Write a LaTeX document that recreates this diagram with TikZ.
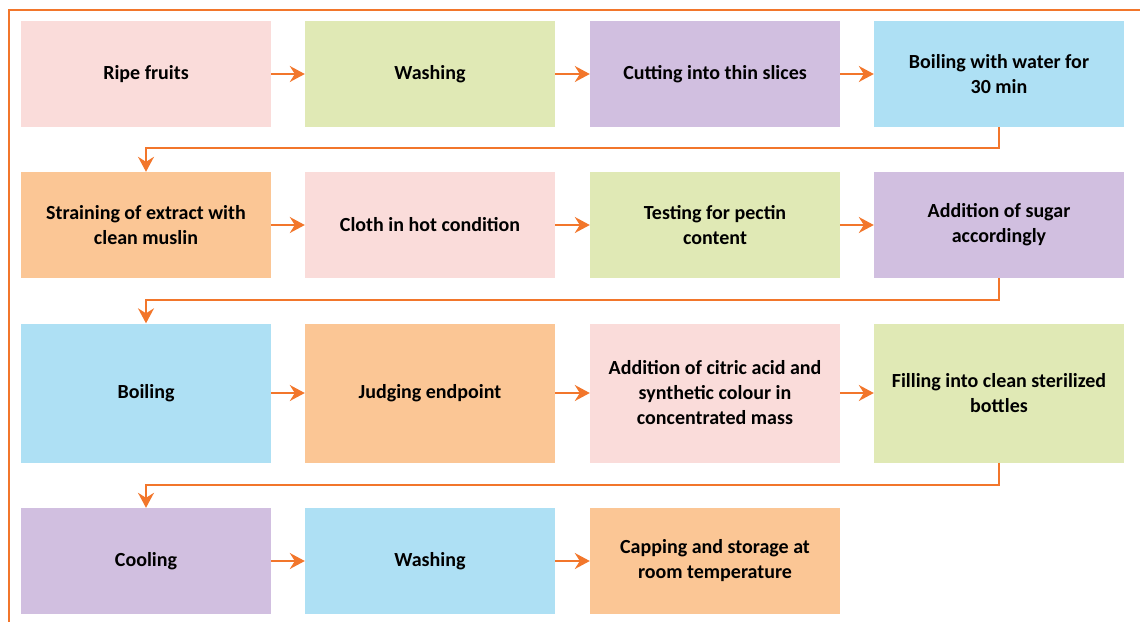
\documentclass[tikz,border=0pt]{standalone}
\usepackage{fontspec}
\setmainfont{Carlito}
\usetikzlibrary{arrows.meta}
\definecolor{boxpink}{RGB}{250,220,218}
\definecolor{boxgreen}{RGB}{224,233,181}
\definecolor{boxpurple}{RGB}{209,191,224}
\definecolor{boxblue}{RGB}{174,224,244}
\definecolor{boxorange}{RGB}{251,198,149}
\definecolor{lineorange}{RGB}{242,118,43}
\begin{document}
\begin{tikzpicture}[x=1pt, y=-1pt,
  stepbox/.style={minimum width=250pt, inner sep=0pt, align=center,
    font=\fontsize{20}{25}\selectfont\bfseries},
  flow/.style={draw=lineorange, line width=1.8pt,
    -{Stealth[length=15pt, width=16pt, inset=5pt]}}]
\useasboundingbox (0,0) rectangle (1140,622);
\draw[lineorange, line width=2.4pt] (1140,10) -- (9,10) -- (9,622);
% first row
\node[stepbox, minimum height=106pt, fill=boxpink] (s1) at (146,74) {Ripe fruits};
\node[stepbox, minimum height=106pt, fill=boxgreen] (s2) at (430,74) {Washing};
\node[stepbox, minimum height=106pt, fill=boxpurple] (s3) at (715,74) {Cutting into thin slices};
\node[stepbox, minimum height=106pt, fill=boxblue] (s4) at (999,74) {Boiling with water for\\30 min};
\draw[flow] (s1) -- (s2);
\draw[flow] (s2) -- (s3);
\draw[flow] (s3) -- (s4);
% second row
\node[stepbox, minimum height=106pt, fill=boxorange] (s5) at (146,225) {Straining of extract with\\clean muslin};
\node[stepbox, minimum height=106pt, fill=boxpink] (s6) at (430,225) {Cloth in hot condition};
\node[stepbox, minimum height=106pt, fill=boxgreen] (s7) at (715,225) {Testing for pectin\\content};
\node[stepbox, minimum height=106pt, fill=boxpurple] (s8) at (999,225) {Addition of sugar\\accordingly};
\draw[flow] (s4.south) |- (146,148) -- (s5.north);
\draw[flow] (s5) -- (s6);
\draw[flow] (s6) -- (s7);
\draw[flow] (s7) -- (s8);
% third row
\node[stepbox, minimum height=139pt, fill=boxblue] (s9) at (146,393) {Boiling};
\node[stepbox, minimum height=139pt, fill=boxorange] (s10) at (430,393) {Judging endpoint};
\node[stepbox, minimum height=139pt, fill=boxpink] (s11) at (715,393) {Addition of citric acid and\\synthetic colour in\\concentrated mass};
\node[stepbox, minimum height=139pt, fill=boxgreen] (s12) at (999,393) {Filling into clean sterilized\\bottles};
\draw[flow] (s8.south) |- (146,300) -- (s9.north);
\draw[flow] (s9) -- (s10);
\draw[flow] (s10) -- (s11);
\draw[flow] (s11) -- (s12);
% last row
\node[stepbox, minimum height=106pt, fill=boxpurple] (s13) at (146,561) {Cooling};
\node[stepbox, minimum height=106pt, fill=boxblue] (s14) at (430,561) {Washing};
\node[stepbox, minimum height=106pt, fill=boxorange] (s15) at (715,561) {Capping and storage at\\room temperature};
\draw[flow] (s12.south) |- (146,485) -- (s13.north);
\draw[flow] (s13) -- (s14);
\draw[flow] (s14) -- (s15);
\end{tikzpicture}
\end{document}
